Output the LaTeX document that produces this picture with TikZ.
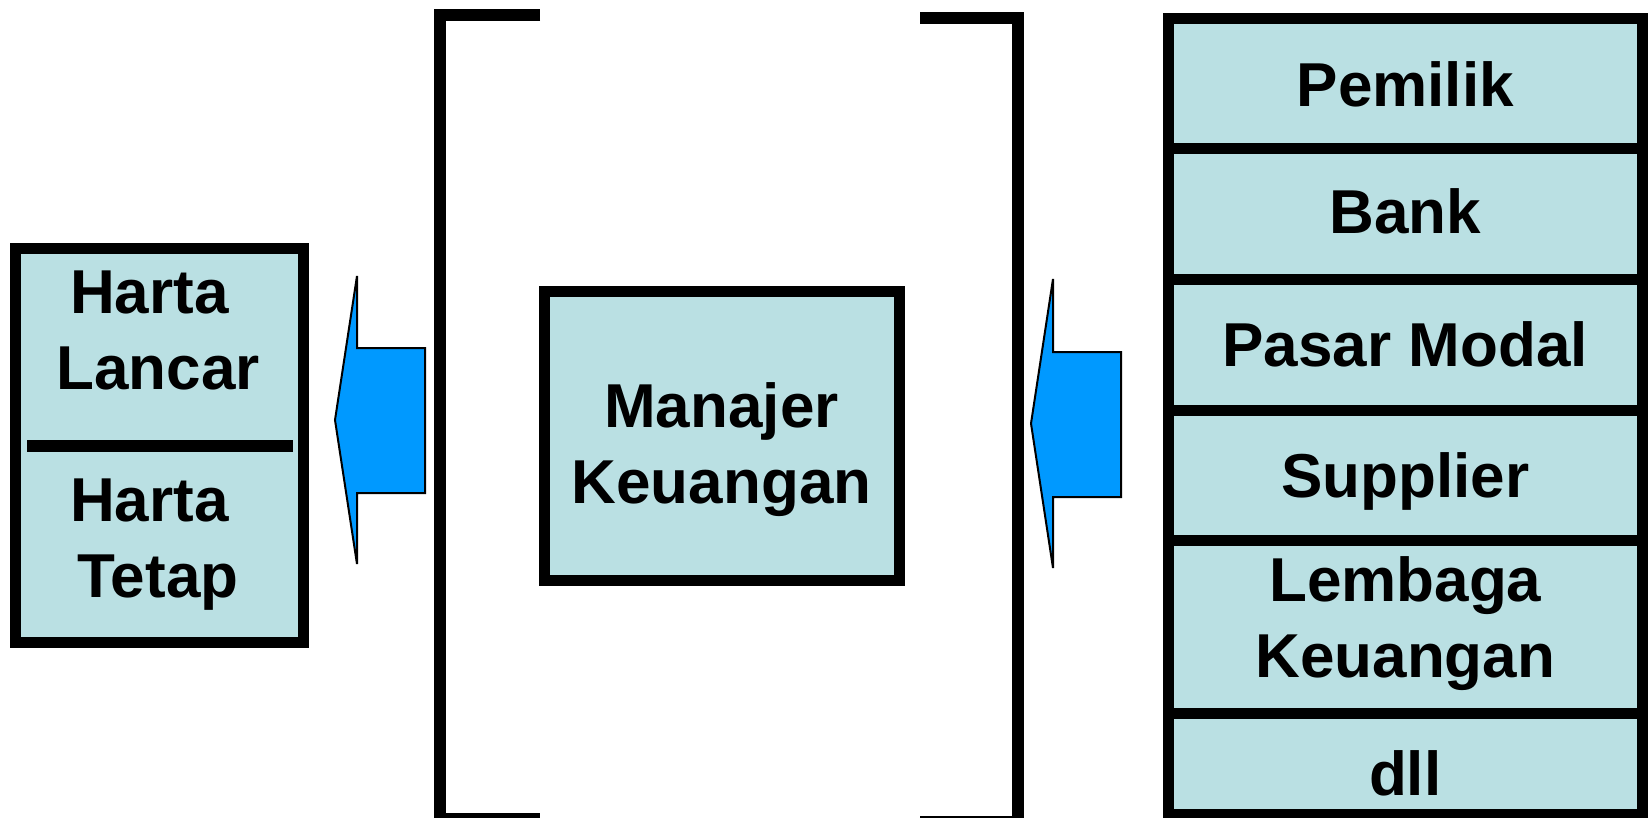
\documentclass[tikz,border=0pt]{standalone}
\usepackage{fontspec}
\setmainfont{Liberation Sans}
\definecolor{cellfill}{RGB}{186,224,227}
\definecolor{arrowblue}{RGB}{0,153,255}
\tikzset{
  cell/.style={draw=black, fill=cellfill, line width=11pt, inner sep=0pt, outer sep=0pt,
    font=\fontsize{62}{76}\selectfont\bfseries, align=center, text depth=0pt},
  lbl/.style={inner sep=0pt, font=\fontsize{62}{76}\selectfont\bfseries, align=center, text depth=0pt},
  bracket/.style={line width=12pt, line join=miter},
  blockarrow/.style={draw=black, fill=arrowblue, line width=2pt, line join=miter}
}
\begin{document}
\begin{tikzpicture}[x=1pt, y=-1pt]

    \useasboundingbox (0,0) rectangle (1648,818);

    % left: the assets
    \node[cell, minimum width=288pt, minimum height=394pt] (aset) at (159.5,445.5) {};
    \draw[line width=12pt] ([xshift=11.5pt]aset.west) -- ([xshift=-10.5pt]aset.east);
    \node[lbl] (lancar) at (158,330.5) {Harta\kern.278em\\Lancar};
    \node[lbl] (tetap) at (158,538) {Harta\kern.278em\\Tetap};

    % middle: the manager between the brackets
    \node[cell, minimum width=355pt, minimum height=289pt, text height=135pt] (manajer) at (721.5,435.5) {Manajer\\Keuangan};
    \draw[bracket] (540,15.5) -- (440,15.5) -- (440,819) -- (540,819);
    \draw[bracket] (920,18) -- (1017.5,18) -- (1017.5,822) -- (920,822);

    % right: where the funds come from
    \node[cell, minimum width=473.5pt, minimum height=130.5pt] (pemilik) at (1405.25,83.75) {Pemilik};
    \node[cell, minimum width=473.5pt, minimum height=130pt, text depth=6pt] (bank) at (1405.25,214) {Bank};
    \node[cell, minimum width=473.5pt, minimum height=131pt] (pasar) at (1405.25,344.5) {Pasar Modal};
    \node[cell, minimum width=473.5pt, minimum height=130pt] (supplier) at (1405.25,475) {Supplier};
    \node[cell, minimum width=473.5pt, minimum height=173pt, text depth=18pt] (lembaga) at (1405.25,626.5) {Lembaga\\Keuangan};
    \node[cell, minimum width=473.5pt, minimum height=101pt, text height=63pt] (dll) at (1405.25,763.5) {dll};

    % the two block arrows
    \draw[blockarrow] (335,420) -- (357,276) -- (357,348) -- (425,348) -- (425,493) -- (357,493) -- (357,564) -- cycle;
    \draw[blockarrow] (1031,423.5) -- (1053,279) -- (1053,352) -- (1121,352) -- (1121,497) -- (1053,497) -- (1053,568) -- cycle;

\end{tikzpicture}
\end{document}
